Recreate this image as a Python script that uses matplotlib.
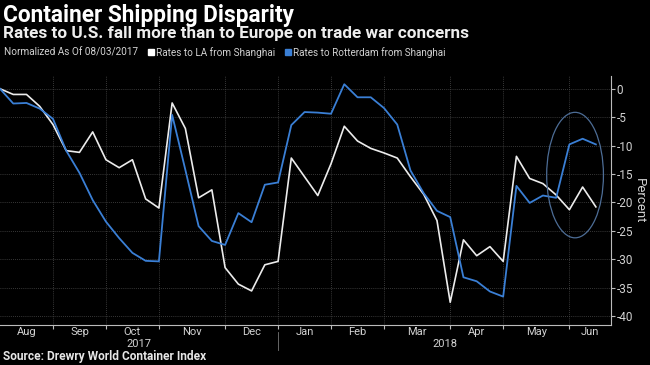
"""
Container shipping rates: LA vs Rotterdam from Shanghai (normalized).
"""

import pandas as pd
import numpy as np
import matplotlib.pyplot as plt
import matplotlib.dates as mdates
import matplotlib.transforms as mtransforms
from matplotlib.patches import Ellipse, Rectangle


# weekly index values, normalized as of 08/03/2017 (percent)
start_date = '2017-08-03'
n_weeks = 46
la_rates = [0, -1.0, -1.0, -3.1, -6.3, -10.9, -11.2, -7.6, -12.5, -13.9,
            -12.5, -19.4, -21.0, -2.5, -7.0, -19.2, -17.8, -31.5, -34.4, -35.6,
            -31.0, -30.4, -12.2, -15.5, -18.8, -13.2, -6.6, -9.2, -10.5, -11.3,
            -12.2, -15.5, -18.6, -23.2, -37.6, -26.6, -29.4, -27.8, -30.4, -11.9,
            -15.8, -16.7, -18.7, -21.3, -17.3, -20.8]
rotterdam_rates = [0, -2.6, -2.5, -3.5, -5.3, -10.9, -14.8, -19.6, -23.4, -26.3,
                   -28.9, -30.3, -30.4, -4.6, -14.3, -24.2, -26.8, -27.5, -21.9, -23.5,
                   -16.9, -16.5, -6.4, -4.1, -4.2, -4.4, 0.8, -1.5, -1.5, -3.4,
                   -6.3, -14.4, -18.4, -21.5, -22.6, -33.2, -33.9, -35.7, -36.6, -17.1,
                   -20.1, -18.8, -19.2, -9.8, -8.8, -9.8]
y_ticks = [0, -5, -10, -15, -20, -25, -30, -35, -40]
years = ['2017', '2018']

BG = '#000000'
WHITE = '#ececec'
BLUE = '#3a7fd5'
GRID = '#4a4a4a'
TXT = '#d2d2d2'
FONT = 'Roboto'


def fit_width(fig, txt, target_px):
    """scale a text's font size so it spans target_px pixels"""
    r = fig.canvas.get_renderer()
    w = txt.get_window_extent(r).width
    txt.set_fontsize(txt.get_fontsize() * target_px / w)


def main():
    dates = pd.date_range(start_date, periods=n_weeks, freq='7D')
    right_edge = dates[-1] + pd.Timedelta(days=8)

    fig = plt.figure(figsize=(6.5, 3.65), dpi=100, facecolor=BG)
    ax = fig.add_axes([0.0, 0.1096, 0.94, 0.683], facecolor=BG)

    ax.plot(dates, la_rates, color=WHITE, linewidth=1.2, zorder=3)
    ax.plot(dates, rotterdam_rates, color=BLUE, linewidth=1.3, zorder=4)

    # month boundaries = last data point of each month
    months = dates.to_period('M')
    bounds = [dates[i] for i in range(len(dates) - 1) if months[i] != months[i + 1]]
    edges = [dates[0]] + bounds + [right_edge]
    centers = [edges[i] + (edges[i + 1] - edges[i]) / 2 for i in range(len(edges) - 1)]
    labels = list(pd.period_range(months[0], periods=len(centers), freq='M').strftime('%b'))

    ax.set_xlim(dates[0], right_edge)
    ax.set_ylim(-41.6, 2.3)

    ax.set_xticks(bounds)
    ax.set_xticklabels([])
    ax.set_xticks(centers, minor=True)
    ax.set_xticklabels(labels, minor=True, family=FONT, fontsize=8, color=TXT)
    ax.tick_params(axis='x', which='major', length=3, color='#bbbbbb', direction='out')
    ax.tick_params(axis='x', which='minor', length=0, pad=1.5)

    ax.yaxis.tick_right()
    ax.set_yticks(y_ticks)
    ax.set_yticklabels([str(v) for v in y_ticks], family=FONT, fontsize=8.5, color=TXT)
    ax.tick_params(axis='y', length=3, color='#bbbbbb', pad=1)
    ax.yaxis.set_label_position('right')
    ax.set_ylabel('Percent', rotation=270, family=FONT, fontsize=9.5,
                  color=TXT, labelpad=9)

    for v in y_ticks:
        ax.axhline(v, color=GRID, linewidth=0.6, linestyle=(0, (1, 1.5)), zorder=1)
    for b in bounds:
        ax.axvline(b, color=GRID, linewidth=0.6, linestyle=(0, (1, 1.5)), zorder=1)

    for side in ['top', 'left']:
        ax.spines[side].set_visible(False)
    ax.spines['bottom'].set_color('#bbbbbb')
    ax.spines['right'].set_color('#bbbbbb')

    # year labels under month labels, split at the December boundary
    trans = mtransforms.blended_transform_factory(ax.transData, ax.transAxes)
    year_split = [b for b in bounds if b.month == 12][0]
    year_edges = [dates[0], year_split, right_edge]
    for i, yr in enumerate(years):
        mid = year_edges[i] + (year_edges[i + 1] - year_edges[i]) / 2
        ax.text(mid, -0.077, yr, transform=trans, ha='center', va='center',
                family=FONT, fontsize=8, color=TXT)
    ax.plot([year_split, year_split], [-0.03, -0.1], transform=trans,
            color='#777777', linewidth=0.6, clip_on=False)

    # highlight ellipse around the latest weeks
    ell_center = mdates.date2num(dates[0] + pd.Timedelta(days=304))
    ell = Ellipse((ell_center, -15.2), width=30, height=22.1,
                  fill=False, edgecolor='#4d6d96', linewidth=0.9, zorder=5)
    ax.add_patch(ell)

    # titles
    t1 = fig.text(3 / 650, 0.958, 'Container Shipping Disparity', family=FONT,
                  fontsize=15, fontweight='bold', color='white', va='center')
    t2 = fig.text(3 / 650, 0.909, 'Rates to U.S. fall more than to Europe on trade war concerns',
                  family=FONT, fontsize=11.5, fontweight='bold', color='#eeeeee', va='center')

    # legend row
    l1 = fig.text(4 / 650, 0.857, 'Normalized As Of 08/03/2017', family=FONT,
                  fontsize=8, color=TXT, va='center')
    fig.patches.append(Rectangle((148 / 650, 0.848), 6 / 650, 6 / 365,
                                 transform=fig.transFigure, color='white', figure=fig))
    l2 = fig.text(156 / 650, 0.857, 'Rates to LA from Shanghai', family=FONT,
                  fontsize=8, color=TXT, va='center')
    fig.patches.append(Rectangle((285 / 650, 0.848), 6 / 650, 6 / 365,
                                 transform=fig.transFigure, color=BLUE, figure=fig))
    l3 = fig.text(293 / 650, 0.857, 'Rates to Rotterdam from Shanghai', family=FONT,
                  fontsize=8, color=TXT, va='center')

    src = fig.text(3 / 650, 0.022, 'Source: Drewry World Container Index', family=FONT,
                   fontsize=8.5, fontweight='bold', color='#e6e6e6', va='center')

    for txt, px in [(t1, 293), (t2, 465), (l1, 134), (l2, 119), (l3, 153), (src, 202)]:
        fit_width(fig, txt, px)

    fig.savefig('out.png', dpi=100, facecolor=BG)


if __name__ == "__main__":
    main()
